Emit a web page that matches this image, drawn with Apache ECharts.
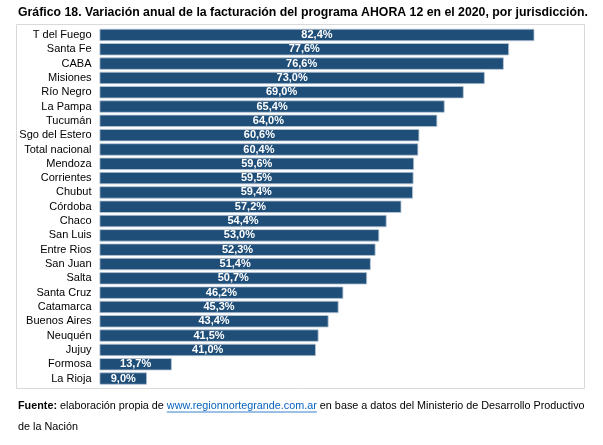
<!DOCTYPE html>
<html>
<head>
<meta charset="utf-8">
<script src="https://cdn.jsdelivr.net/npm/echarts@6/dist/echarts.min.js"></script>
<style>
  html, body { margin: 0; padding: 0; background: #fff; }
  #chart { width: 603px; height: 445px; }
</style>
</head>
<body>
<div id="chart"></div>
<script>
// datos del gráfico
var jurisdicciones = ['T del Fuego', 'Santa Fe', 'CABA', 'Misiones', 'Río Negro', 'La Pampa', 'Tucumán',
    'Sgo del Estero', 'Total nacional', 'Mendoza', 'Corrientes', 'Chubut', 'Córdoba', 'Chaco', 'San Luis',
    'Entre Rios', 'San Juan', 'Salta', 'Santa Cruz', 'Catamarca', 'Buenos Aires', 'Neuquén', 'Jujuy',
    'Formosa', 'La Rioja'];
var variacion = [82.4, 77.6, 76.6, 73.0, 69.0, 65.4, 64.0, 60.6, 60.4, 59.6, 59.5, 59.4, 57.2, 54.4, 53.0,
    52.3, 51.4, 50.7, 46.2, 45.3, 43.4, 41.5, 41.0, 13.7, 9.0];

var titulo = 'Gráfico 18. Variación anual de la facturación del programa AHORA 12 en el 2020, por jurisdicción.';
var fuente1 = 'elaboración propia de ';
var enlace = 'www.regionnortegrande.com.ar';
var fuente2 = ' en base a datos del Ministerio de Desarrollo Productivo';
var fuente3 = 'de la Nación';

// medir texto para el subrayado del enlace
function medir(txt, font) {
    var c = document.createElement('canvas').getContext('2d');
    c.font = font;
    return c.measureText(txt).width;
}
var fontPie = '10.8px Arial, "Liberation Sans", sans-serif';
var xEnlace = 18 + medir('Fuente: ', 'bold ' + fontPie) + medir(fuente1, fontPie);
var wEnlace = medir(enlace, fontPie);

var myChart = echarts.init(document.getElementById('chart'));
var option = {
    animation: false,
    textStyle: { fontFamily: 'Arial, "Liberation Sans", sans-serif' },
    title: {
        text: titulo,
        left: 13,
        top: 2,
        textStyle: { color: '#000', fontSize: 12.3, fontWeight: 'bold' }
    },
    grid: {
        left: 99.5,
        right: 28.5,
        top: 27.8,
        bottom: 59.3,
        containLabel: false
    },
    xAxis: {
        type: 'value',
        min: 0,
        max: 90,
        show: false
    },
    yAxis: {
        type: 'category',
        inverse: true,
        data: jurisdicciones,
        axisLine: { show: false },
        axisTick: { show: false },
        axisLabel: { color: '#000', fontSize: 11, margin: 8 }
    },
    series: [
        {
            type: 'bar',
            data: variacion,
            barCategoryGap: '14%',
            itemStyle: {
                color: '#1f4e79',
                borderColor: '#b7c6d6',
                borderWidth: 0.8
            },
            label: {
                show: true,
                position: 'inside',
                color: '#fff',
                fontSize: 11,
                fontWeight: 'bold',
                formatter: function (p) {
                    return p.value.toFixed(1).replace('.', ',') + '%';
                }
            }
        }
    ],
    graphic: [
        {   // marco del gráfico
            type: 'rect',
            shape: { x: 16.5, y: 24.5, width: 568, height: 364 },
            style: { fill: 'none', stroke: '#d9d9d9', lineWidth: 1 },
            silent: true
        },
        {
            type: 'text',
            left: 18,
            top: 401,
            style: {
                text: '{b|Fuente:} ' + fuente1 + '{l|' + enlace + '}' + fuente2,
                font: fontPie,
                fill: '#000',
                rich: {
                    b: { fontWeight: 'bold', fontSize: 10.8, fill: '#000' },
                    l: { fill: '#0563c1', fontSize: 10.8 }
                }
            }
        },
        {
            type: 'line',
            shape: { x1: xEnlace, y1: 412, x2: xEnlace + wEnlace, y2: 412 },
            style: { stroke: '#0563c1', lineWidth: 0.8 }
        },
        {
            type: 'text',
            left: 18,
            top: 422,
            style: { text: fuente3, font: fontPie, fill: '#000' }
        }
    ]
};
myChart.setOption(option);
</script>
</body>
</html>
